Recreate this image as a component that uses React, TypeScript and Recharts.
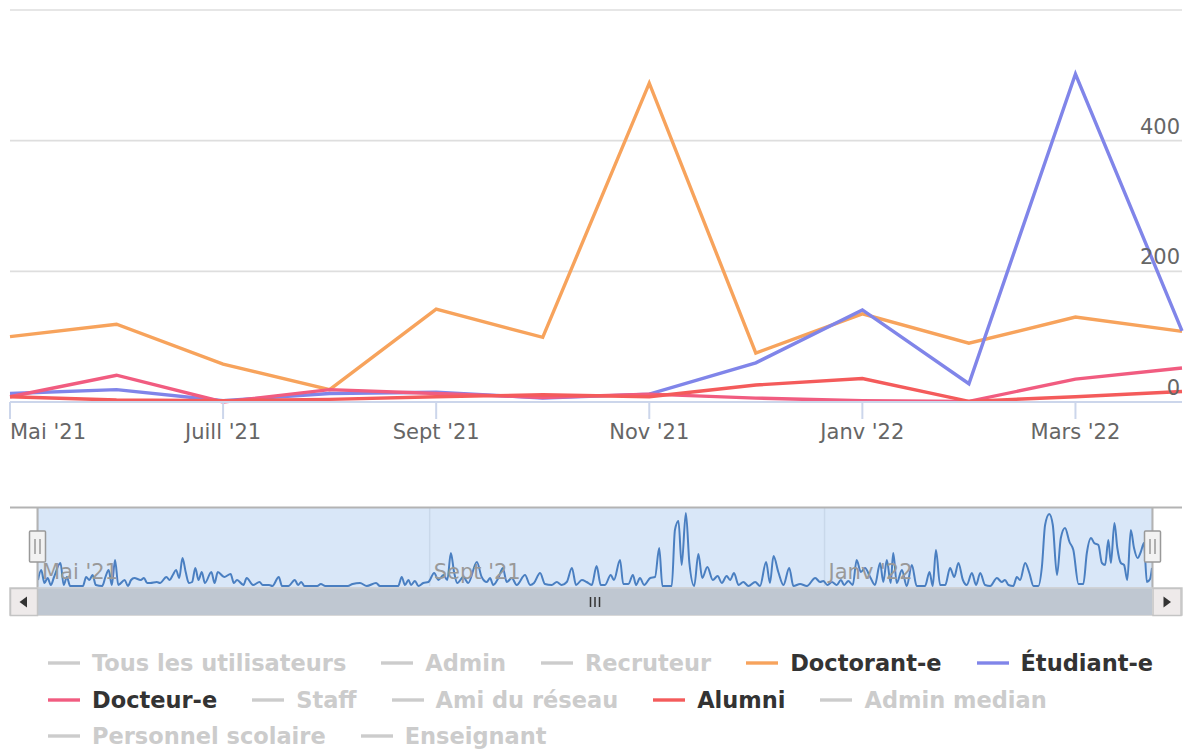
import React from "react";
import { LineChart, Line, XAxis, YAxis, CartesianGrid } from "recharts";

const FONT = '"DejaVu Sans", "Lucida Grande", Arial, sans-serif';

// ---- main chart data (monthly) ----
const months = ["Mai '21", "Juin '21", "Juill '21", "Août '21", "Sept '21", "Oct '21", "Nov '21", "Déc '21", "Janv '22", "Févr '22", "Mars '22", "Avr '22"];
const doctorant = [100, 119, 58, 19, 142, 99, 488, 75, 135, 90, 130, 108];
const etudiant = [13, 19, 2, 13, 15, 6, 12, 60, 141, 28, 502, 109];
const docteur = [8, 41, 0, 19, 13, 7, 12, 6, 2, 1, 35, 52];
const alumni = [8, 3, 2, 4, 8, 11, 8, 26, 36, 1, 8, 16];
const yTicks = [0, 200, 400, 600];

// ---- navigator (daily, day 0 = 1 May 2021) ----
const navTicks = [0, 122, 245];
const navTickLabels = ["Mai '21", "Sept '21", "Janv '22"];
const navigatorSeries: [number, number][] = [
  [0, 6], [1, 16], [2, 3], [3, 8], [4, 1], [5, 9], [7, 23], [8, 1], [9, 9], [10, 0], [14, 0], [15, 9], [16, 6], [17, 11], [18, 1], [20, 0],
  [21, 9], [22, 16], [23, 1], [24, 26], [25, 1], [27, 6], [28, 0], [29, 6], [30, 8], [32, 6], [33, 8], [34, 3], [35, 3], [37, 4], [38, 3],
  [40, 9], [41, 6], [42, 11], [43, 16], [44, 8], [45, 28], [46, 14], [47, 3], [48, 4], [49, 18], [50, 6], [51, 14], [52, 3], [54, 14],
  [55, 3], [56, 14], [58, 9], [60, 12], [61, 3], [62, 6], [64, 1], [65, 8], [67, 1], [69, 4], [70, 1], [72, 1], [73, 0], [75, 9], [76, 0],
  [78, 0], [80, 6], [81, 1], [82, 4], [83, 0], [87, 0],
  [88.1, 2], [89.5, 0], [96.5, 0], [98, 2], [100.3, 3], [102.4, 0], [105.3, 3], [106.5, 0], [112.2, 0], [113.3, 9], [114.3, 1], [115.4, 6],
  [116.2, 1], [117.4, 5], [118.5, 0], [120, 3], [121.6, 4], [123.4, 13], [124.7, 6], [126.3, 11], [127.5, 6], [128.6, 33], [129.6, 14],
  [130.6, 3], [132.5, 9], [134, 3], [136.7, 24], [138.2, 9], [139.8, 4], [140.8, 8], [141.8, 1], [143.4, 8], [144.8, 18], [146, 4],
  [147.6, 8], [149.1, 1], [151.7, 11], [153.3, 1], [154.5, 3], [156.4, 13], [157.9, 2], [160, 1], [161.6, 4], [163.1, 1], [164.7, 4],
  [166.3, 18], [167.6, 1], [169.4, 6], [170.9, 4], [172.5, 1], [174, 20],
  [175.3, 1], [176.6, 1], [178.4, 11], [179.4, 6], [181.3, 26], [182.3, 2], [183.9, 2], [185.3, 11], [186.3, 1], [187.5, 8], [188.8, 1],
  [190.7, 8], [192.2, 9], [193.5, 38], [194.5, 0], [197.4, 0], [198.4, 56], [199.5, 65], [200.5, 21], [201.8, 73], [202.9, 23], [204.4, 0],
  [205.7, 32], [206.9, 8], [208.5, 19], [210.2, 6], [211.7, 10], [213, 3], [214.5, 10], [215.6, 6], [216.8, 13], [218.2, 1], [219.7, 4],
  [221.3, 0], [223.4, 4], [224.9, 0], [226.8, 24], [228, 3], [229.1, 30], [230.6, 14], [232.2, 1], [234, 18], [235.3, 0], [237.4, 2],
  [239.5, 0], [242.1, 8], [243.6, 4], [244.6, 5], [245.9, 1], [247.3, 4], [248.8, 1], [250.1, 6], [251.1, 1], [252.4, 5], [253.8, 1],
  [255, 26], [256.3, 14], [257.6, 18],
  [259.2, 9], [260.7, 1], [262.3, 23], [263.3, 4], [264.4, 26], [265.6, 3], [266.4, 33], [267.5, 3], [269.1, 16], [270.6, 0], [272.2, 21],
  [273.7, 0], [276.3, 0], [277.7, 14], [278.7, 0], [279.7, 36], [281, 1], [282.6, 1], [284.1, 18], [285.4, 9], [286.7, 23], [288.1, 6],
  [289.3, 1], [290.9, 13], [292.2, 1], [293.5, 13], [295, 1], [296.6, 0], [298.7, 8], [300.2, 4], [301.2, 6], [302.3, 1], [303.8, 0],
  [304.9, 9], [305.9, 6], [307.5, 23], [308.8, 13], [310.1, 0], [311.6, 0], [312.7, 19], [313.7, 61], [315, 72], [316.1, 61], [317.4, 11],
  [318.6, 48], [319.9, 58], [321.3, 44], [322.5, 36], [324.1, 2], [325.6, 2], [326.7, 33], [328, 48], [329, 43], [330.3, 41], [331.4, 23],
  [332.4, 21], [333.4, 46], [334.2, 23], [335.3, 63], [336.2, 38], [337.3, 23], [338.3, 21], [339.3, 6], [340.4, 56], [341.4, 38],
  [342.5, 28], [343.5, 34], [344.5, 43], [345.4, 4], [346.4, 7], [347, 18],
];

// ---- legend ----
const legendNames = ["Tous les utilisateurs", "Admin", "Recruteur", "Doctorant-e", "Étudiant-e", "Docteur-e", "Staff", "Ami du réseau", "Alumni", "Admin median", "Personnel scolaire", "Enseignant"];
const legendColors = ["#7cb5ec", "#434348", "#90ed7d", "#f7a35c", "#8085e9", "#f15c80", "#e4d354", "#2b908f", "#f45b5b", "#91e8e1", "#7cb5ec", "#434348"];
const legendVisible = [false, false, false, true, true, true, false, false, true, false, false, false];
const legendRows = [[0, 1, 2, 3, 4], [5, 6, 7, 8, 9], [10, 11]];

const mainData = months.map((m, i) => ({
  month: m,
  doctorant: doctorant[i],
  etudiant: etudiant[i],
  docteur: docteur[i],
  alumni: alumni[i],
}));

const navData = navigatorSeries.map(([day, v]) => ({ day, v }));

const MainXTick = (props: any) => {
  const { x, y, payload } = props;
  const first = payload.value === months[0];
  return (
    <text x={x} y={y} dy={20} textAnchor={first ? "start" : "middle"} fill="#666666" fontSize={21} fontFamily={FONT}>
      {payload.value}
    </text>
  );
};

const MainYTick = (props: any) => {
  const { x, y, payload } = props;
  if (payload.value === yTicks[yTicks.length - 1]) return <g />;
  return (
    <text x={x - 2} y={y - 7} textAnchor="end" fill="#666666" fontSize={21} fontFamily={FONT}>
      {payload.value}
    </text>
  );
};

const NavTick = (props: any) => {
  const { x, y, payload } = props;
  const idx = navTicks.indexOf(payload.value);
  return (
    <text x={x + 4} y={y - 7} textAnchor="start" fill="#999999" fontSize={21} fontFamily={FONT}>
      {navTickLabels[idx]}
    </text>
  );
};

export default function App() {
  return (
    <div style={{ position: "absolute", top: 0, left: 0, width: 1190, height: 749, background: "#ffffff", fontFamily: FONT, overflow: "hidden" }}>
      <div style={{ position: "absolute", top: 0, left: 0 }}>
        <LineChart width={1190} height={450} data={mainData} margin={{ top: 10, right: 7, left: 10, bottom: 0 }}>
          <CartesianGrid vertical={false} stroke="#dedede" strokeWidth={1.7} />
          <XAxis
            dataKey="month"
            scale="point"
            padding={{ left: 0, right: 0 }}
            interval={1}
            height={48}
            tickSize={17}
            tickMargin={0}
            axisLine={{ stroke: "#ccd6eb", strokeWidth: 2 }}
            tickLine={{ stroke: "#ccd6eb", strokeWidth: 2 }}
            tick={<MainXTick />}
          />
          <YAxis
            orientation="right"
            width={1}
            domain={[0, 600]}
            ticks={yTicks}
            axisLine={false}
            tickLine={false}
            tickSize={0}
            tickMargin={0}
            tick={<MainYTick />}
          />
          <Line type="linear" dataKey="doctorant" stroke="#f7a35c" strokeWidth={3.4} dot={false} isAnimationActive={false} />
          <Line type="linear" dataKey="etudiant" stroke="#8085e9" strokeWidth={3.4} dot={false} isAnimationActive={false} />
          <Line type="linear" dataKey="docteur" stroke="#f15c80" strokeWidth={3.4} dot={false} isAnimationActive={false} />
          <Line type="linear" dataKey="alumni" stroke="#f45b5b" strokeWidth={3.4} dot={false} isAnimationActive={false} />
        </LineChart>
      </div>

      {/* navigator mask */}
      <div style={{ position: "absolute", top: 508, left: 38, width: 1114, height: 80, background: "#d9e7f8" }} />
      <div style={{ position: "absolute", top: 507, left: 0 }}>
        <LineChart width={1190} height={81} data={navData} margin={{ top: 1, right: 38, left: 38, bottom: 1 }}>
          <CartesianGrid horizontal={false} stroke="#c9d8ea" strokeWidth={1.5} />
          <XAxis
            type="number"
            dataKey="day"
            domain={[0, 347]}
            ticks={navTicks}
            height={1}
            axisLine={false}
            tickLine={false}
            tickSize={0}
            tickMargin={0}
            tick={<NavTick />}
            allowDataOverflow
          />
          <YAxis hide domain={[0, 78]} />
          <Line type="monotone" dataKey="v" stroke="#4a7fc1" strokeWidth={2} dot={false} isAnimationActive={false} />
        </LineChart>
      </div>

      {/* navigator outline, handles and scrollbar */}
      <svg width={1190} height={130} style={{ position: "absolute", top: 500, left: 0 }}>
        <path d="M 10 7.5 L 1182 7.5" stroke="#b3b3b3" strokeWidth={2} fill="none" />
        <path d="M 37.5 7 L 37.5 88" stroke="#b3b3b3" strokeWidth={2} fill="none" />
        <path d="M 1152.5 7 L 1152.5 88" stroke="#b3b3b3" strokeWidth={2} fill="none" />
        {[37.5, 1152.5].map((cx, i) => (
          <g key={i}>
            <rect x={cx - 8} y={31} width={16} height={31} rx={1} fill="#f2f2f2" stroke="#999999" strokeWidth={1.5} />
            <path d={`M ${cx - 2.5} 39 L ${cx - 2.5} 54 M ${cx + 2.5} 39 L ${cx + 2.5} 54`} stroke="#999999" strokeWidth={1.5} />
          </g>
        ))}
        {/* scrollbar */}
        <rect x={10} y={88} width={1172} height={27} fill="#f2f2f2" stroke="#cccccc" strokeWidth={1.5} />
        <rect x={38} y={88.5} width={1114} height={26.5} fill="#bfc7d1" />
        <rect x={10.5} y={88.5} width={27} height={27} fill="#eeeaea" stroke="#c4c4c4" strokeWidth={1.5} />
        <rect x={1153} y={88.5} width={28} height={27} fill="#eeeaea" stroke="#c4c4c4" strokeWidth={1.5} />
        <path d="M 19.5 102 L 27 96.5 L 27 107.5 Z" fill="#333333" />
        <path d="M 1171 102 L 1163.5 96.5 L 1163.5 107.5 Z" fill="#333333" />
        <path d="M 590.5 97 L 590.5 107 M 595 97 L 595 107 M 599.5 97 L 599.5 107" stroke="#333333" strokeWidth={1.5} />
      </svg>

      {/* legend */}
      <div style={{ position: "absolute", top: 645, left: 48 }}>
        {legendRows.map((row, ri) => (
          <div key={ri} style={{ display: "flex", alignItems: "center", height: 36.5, gap: 35, whiteSpace: "nowrap" }}>
            {row.map((idx) => {
              const on = legendVisible[idx];
              return (
                <div key={idx} style={{ display: "flex", alignItems: "center" }}>
                  <svg width={32} height={6} style={{ marginRight: 12 }}>
                    <line x1={0} y1={3} x2={32} y2={3} stroke={on ? legendColors[idx] : "#cccccc"} strokeWidth={3.4} />
                  </svg>
                  <span style={{ fontFamily: FONT, fontSize: 22.5, fontWeight: "bold", color: on ? "#333333" : "#cccccc" }}>
                    {legendNames[idx]}
                  </span>
                </div>
              );
            })}
          </div>
        ))}
      </div>
    </div>
  );
}
